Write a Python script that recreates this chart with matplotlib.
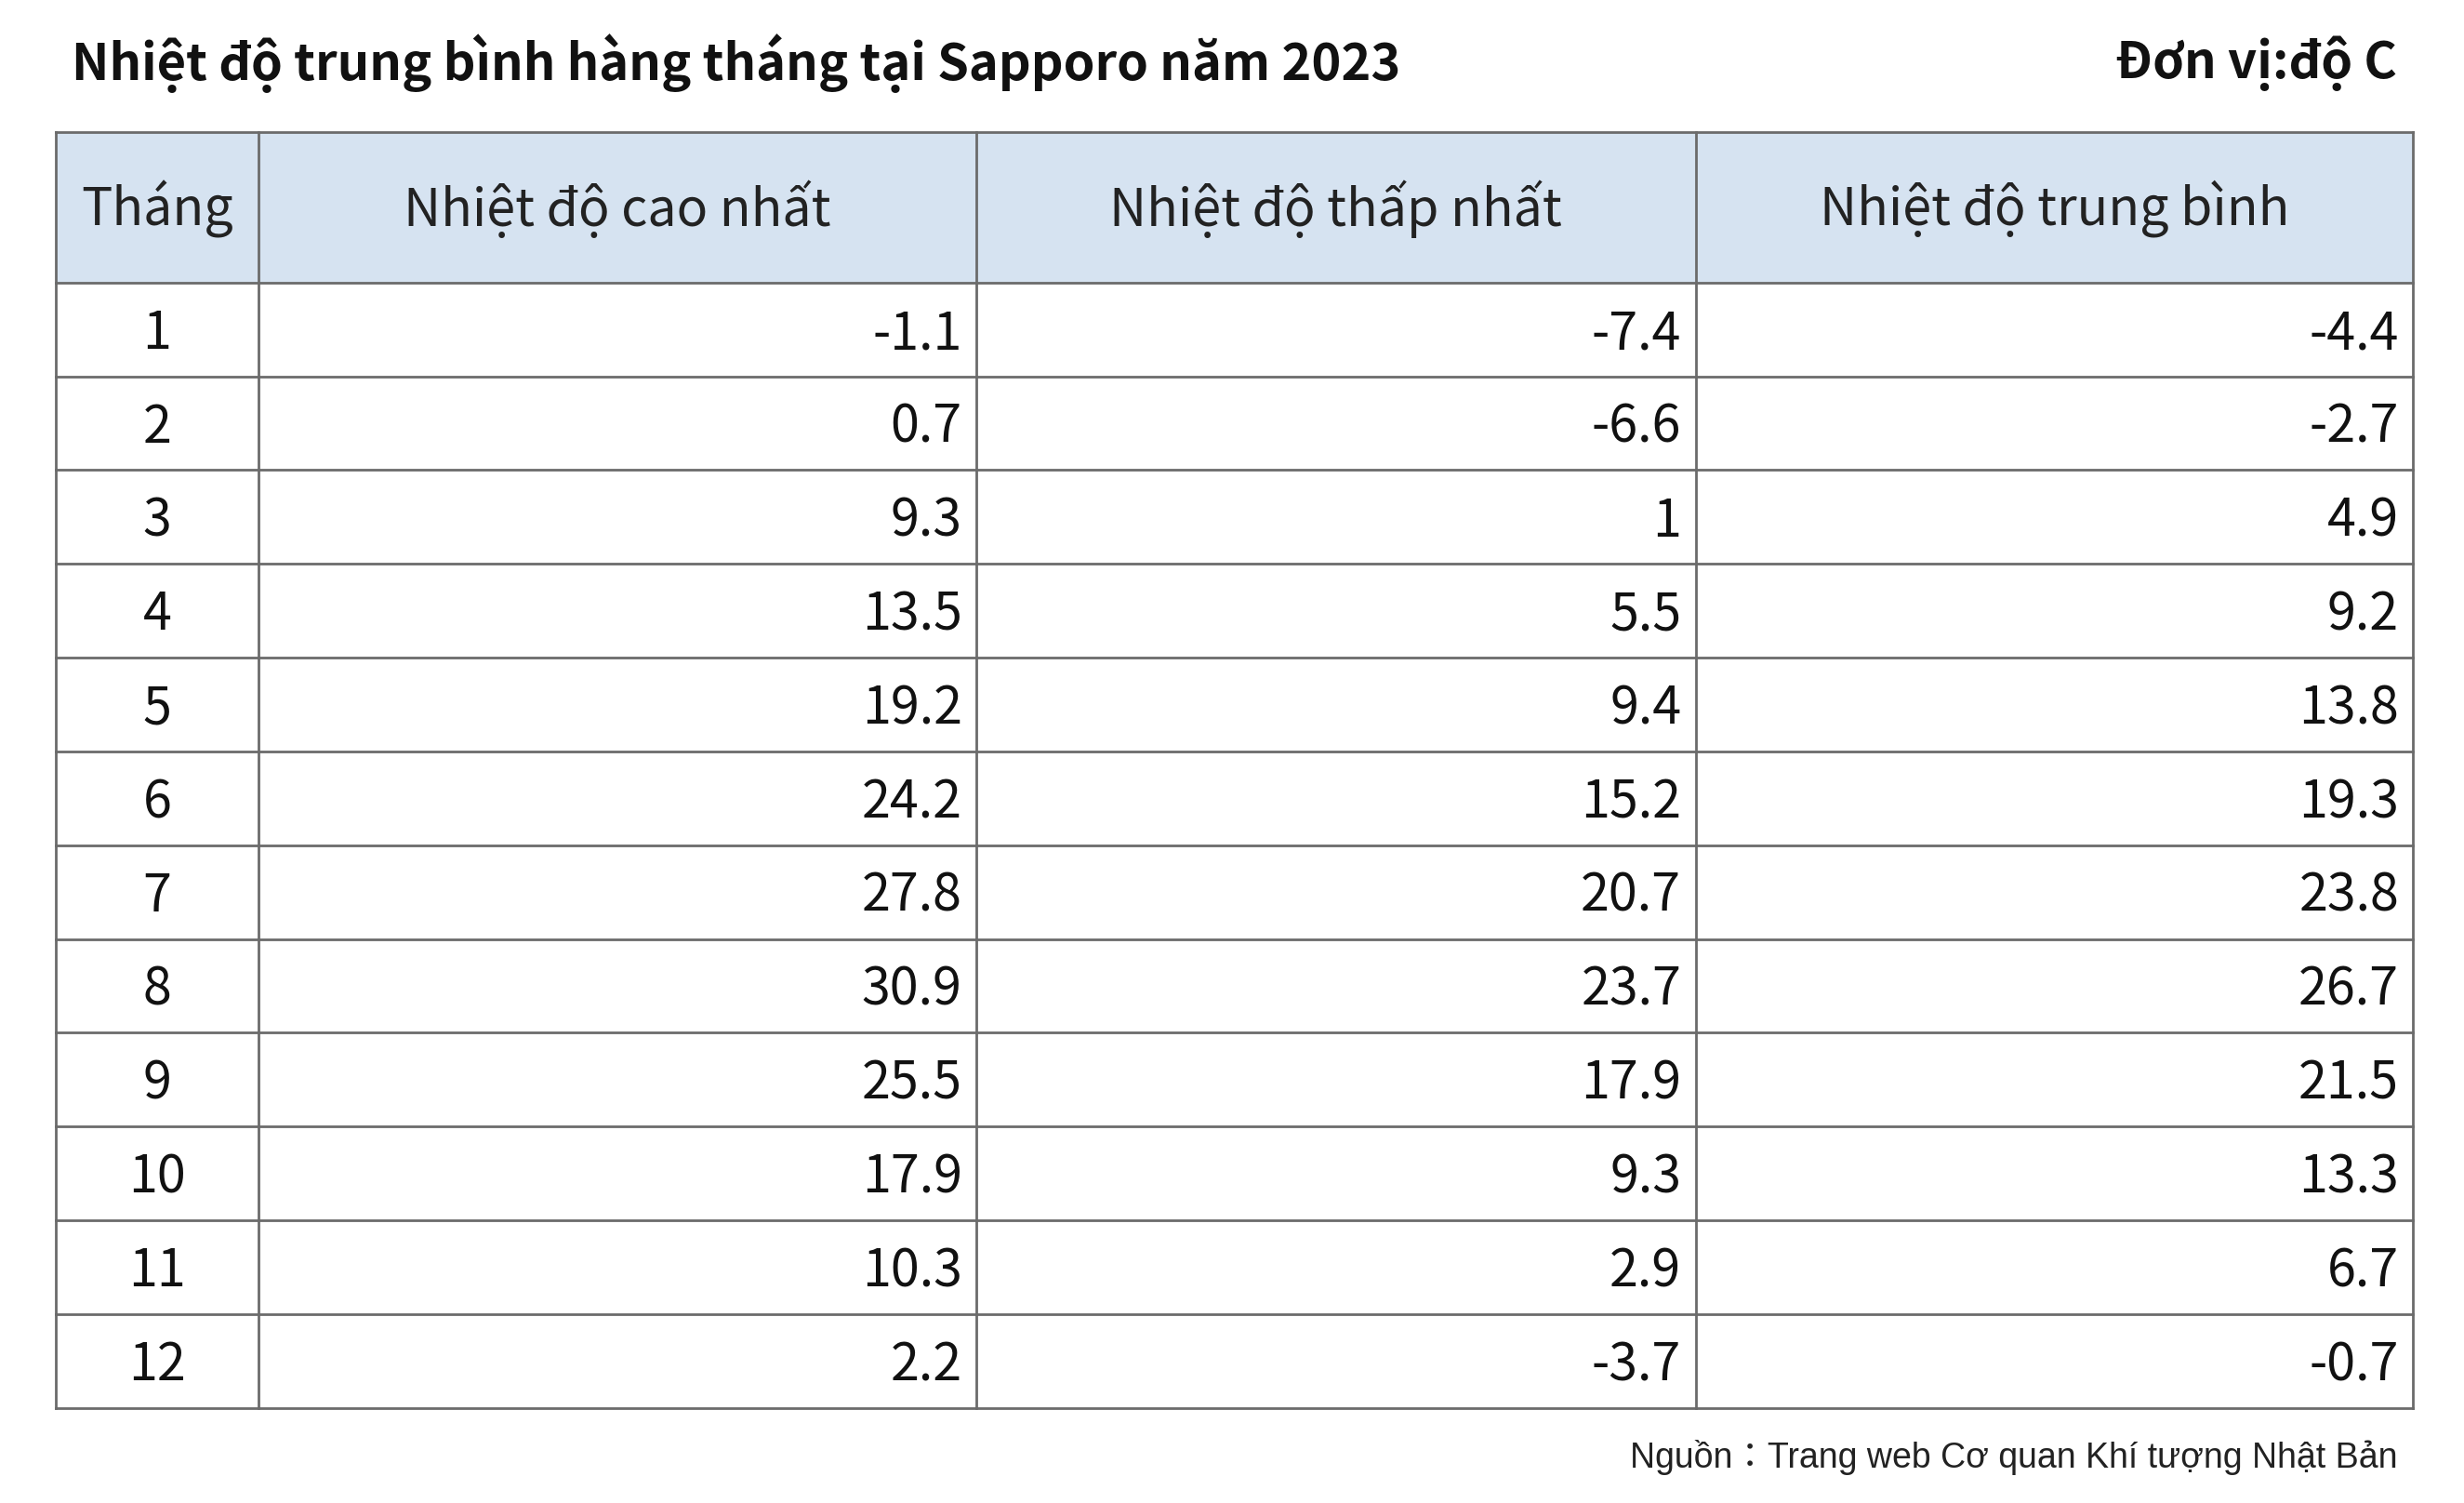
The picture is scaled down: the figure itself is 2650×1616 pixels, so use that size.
import matplotlib
matplotlib.use('Agg')
import matplotlib.pyplot as plt
from matplotlib.patches import Rectangle

months = [str(i) for i in range(1, 13)]
t_max = ["-1.1", "0.7", "9.3", "13.5", "19.2", "24.2", "27.8", "30.9", "25.5", "17.9", "10.3", "2.2"]
t_min = ["-7.4", "-6.6", "1", "5.5", "9.4", "15.2", "20.7", "23.7", "17.9", "9.3", "2.9", "-3.7"]
t_avg = ["-4.4", "-2.7", "4.9", "9.2", "13.8", "19.3", "23.8", "26.7", "21.5", "13.3", "6.7", "-0.7"]
headers = ["Tháng", "Nhiệt độ cao nhất", "Nhiệt độ thấp nhất", "Nhiệt độ trung bình"]

FONT = ["Noto Sans CJK JP", "Noto Sans", "DejaVu Sans"]
W, H = 1552, 947
fig = plt.figure(figsize=(26.5, 16.16), dpi=100)
ax = fig.add_axes([0, 0, 1, 1])
ax.set_xlim(0, W)
ax.set_ylim(H, 0)
ax.axis('off')

cols = [35, 163, 615, 1068, 1520]
top, head_bot, bot = 83, 178, 887
row_h = (bot - head_bot) / len(months)
line_c = '#6b6b6b'

ax.add_patch(Rectangle((cols[0], top), cols[-1] - cols[0], head_bot - top,
                       facecolor='#d6e3f1', edgecolor='none'))
# grid lines
ys = [top, head_bot] + [head_bot + row_h * (i + 1) for i in range(len(months))]
for y in ys:
    ax.plot([cols[0], cols[-1]], [y, y], color=line_c, lw=2)
for x in cols:
    ax.plot([x, x], [top, bot], color=line_c, lw=2)

fs = 40
for j, h in enumerate(headers):
    ax.text((cols[j] + cols[j + 1]) / 2, (top + head_bot) / 2 + 1, h, ha='center', va='center',
            fontsize=fs, family=FONT, color='#222222')

for i in range(len(months)):
    yc = head_bot + row_h * (i + 0.5) + 3
    ax.text((cols[0] + cols[1]) / 2, yc, months[i], ha='center', va='center',
            fontsize=fs, family=FONT, color='#111111')
    for j, series in enumerate([t_max, t_min, t_avg]):
        ax.text(cols[j + 2] - 9, yc, series[i], ha='right', va='center',
                fontsize=fs, family=FONT, color='#111111')

ax.text(45, 40, "Nhiệt độ trung bình hàng tháng tại Sapporo năm 2023", ha='left', va='center',
        fontsize=39, fontweight='bold', family=FONT, color='#111111')
ax.text(1510, 40, "Đơn vị:độ C", ha='right', va='center',
        fontsize=39, fontweight='bold', family=FONT, color='#111111')
ax.text(1510, 918, "Nguồn：Trang web Cơ quan Khí tượng Nhật Bản", ha='right', va='center',
        fontsize=27, family=["Liberation Sans", "Noto Sans CJK JP"], color='#222222')

fig.savefig('out.png', dpi=100, facecolor='white')
